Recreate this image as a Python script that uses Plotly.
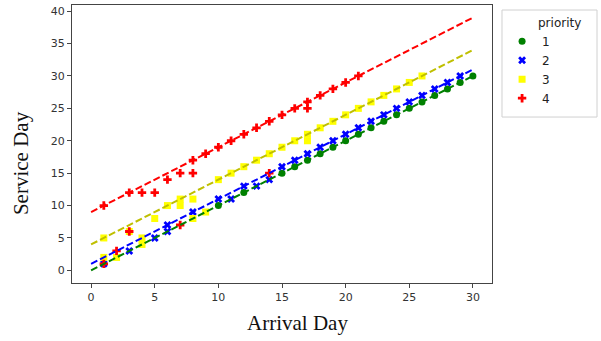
import plotly.graph_objects as go

# ---- data ----
p1_x = [10, 12, 15, 16, 17, 18, 19, 20, 21, 22, 23, 24, 25, 26, 27, 28, 29, 30]
p1_y = [10, 12, 15, 16, 17, 18, 19, 20, 21, 22, 23, 24, 25, 26, 27, 28, 29, 30]

p2_x = [1, 3, 5, 6, 6, 8, 10, 11, 12, 13, 14, 15, 16, 17, 18, 19, 20, 21, 22, 23, 24, 25, 26, 27, 28, 29]
p2_y = [1, 3, 5, 6, 7, 9, 11, 11, 13, 13, 14, 16, 17, 18, 19, 20, 21, 22, 23, 24, 25, 26, 27, 28, 29, 30]

p3_x = [1, 1, 2, 3, 4, 4, 5, 6, 7, 7, 8, 8, 9, 10, 11, 12, 13, 14, 15, 16, 17, 17, 18, 19, 20, 21, 22, 23, 24, 25, 26]
p3_y = [2, 5, 2, 6, 4, 5, 8, 10, 10, 11, 8, 11, 9, 14, 15, 16, 17, 18, 19, 20, 20, 21, 22, 23, 24, 25, 26, 27, 28, 29, 30]

p4_x = [1, 1, 2, 3, 3, 4, 5, 6, 7, 7, 8, 8, 9, 10, 11, 12, 13, 14, 14, 15, 16, 17, 17, 18, 19, 20, 21]
p4_y = [1, 10, 3, 6, 12, 12, 12, 14, 7, 15, 15, 17, 18, 19, 20, 21, 22, 15, 23, 24, 25, 25, 26, 27, 28, 29, 30]

line_x = [0, 30]
line1_y = [0, 30]
line2_y = [1, 31]
line3_y = [4, 34]
line4_y = [9, 39]

priorities = ["1", "2", "3", "4"]
legend_title = "priority"
x_ticks = [0, 5, 10, 15, 20, 25, 30]
y_ticks = [0, 5, 10, 15, 20, 25, 30, 35, 40]

# ---- styles ----
marker_colors = ["#008000", "#0000ff", "#ffff00", "#ff0000"]
line_colors = ["#008000", "#0000ff", "#bfbf00", "#ff0000"]
symbols = ["circle", "x", "square", "cross"]

fig = go.Figure()
pts = [(p1_x, p1_y), (p2_x, p2_y), (p3_x, p3_y), (p4_x, p4_y)]
for i, (px, py) in enumerate(pts):
    fig.add_trace(go.Scatter(
        x=px, y=py, mode="markers", name=priorities[i],
        marker=dict(symbol=symbols[i], color=marker_colors[i], size=7,
                    line=dict(width=0)),
    ))

for i, ly in enumerate([line1_y, line2_y, line3_y, line4_y]):
    fig.add_trace(go.Scatter(
        x=line_x, y=ly, mode="lines", showlegend=False, hoverinfo="skip",
        line=dict(color=line_colors[i], width=2, dash="7px,3px"),
    ))

axis_common = dict(
    showgrid=False, zeroline=False, showline=True, linecolor="#444",
    linewidth=1, mirror=True, ticks="outside", ticklen=4, tickcolor="#444",
    tickfont=dict(family="DejaVu Sans", size=11, color="#333"),
)

# plot area in pixels: left 72, right 492, top 5, bottom 283
fig.update_layout(
    width=601, height=341,
    margin=dict(l=72, r=109, t=5, b=58),
    paper_bgcolor="white", plot_bgcolor="white",
    xaxis=dict(range=[-1.5, 31.5], tickvals=x_ticks, **axis_common),
    yaxis=dict(range=[-1.95, 40.95], tickvals=y_ticks, **axis_common),
    legend=dict(
        x=1.024, y=0.922, xanchor="left", yanchor="top",
        borderwidth=0, bgcolor="rgba(0,0,0,0)",
        font=dict(family="DejaVu Sans", size=12, color="#222"),
        itemwidth=30, tracegroupgap=1,
    ),
    shapes=[
        dict(type="rect", xref="paper", yref="paper",
             x0=1.0238, x1=1.25, y0=0.597, y1=0.982,
             line=dict(color="#d0d0d0", width=1), fillcolor="rgba(0,0,0,0)",
             layer="below"),
    ],
    annotations=[
        dict(text=legend_title, xref="paper", yref="paper", x=1.105, y=0.935,
             xanchor="left", yanchor="middle", showarrow=False,
             font=dict(family="DejaVu Sans", size=12, color="#222")),
        dict(text="Arrival Day", xref="paper", yref="paper", x=0.536, y=-0.144,
             xanchor="center", yanchor="middle", showarrow=False,
             font=dict(family="Liberation Serif", size=21, color="#111")),
        dict(text="Service Day", xref="paper", yref="paper", x=-0.12, y=0.43,
             xanchor="center", yanchor="middle", showarrow=False, textangle=-90,
             font=dict(family="Liberation Serif", size=21, color="#111")),
    ],
)

fig.write_html("out.html")
